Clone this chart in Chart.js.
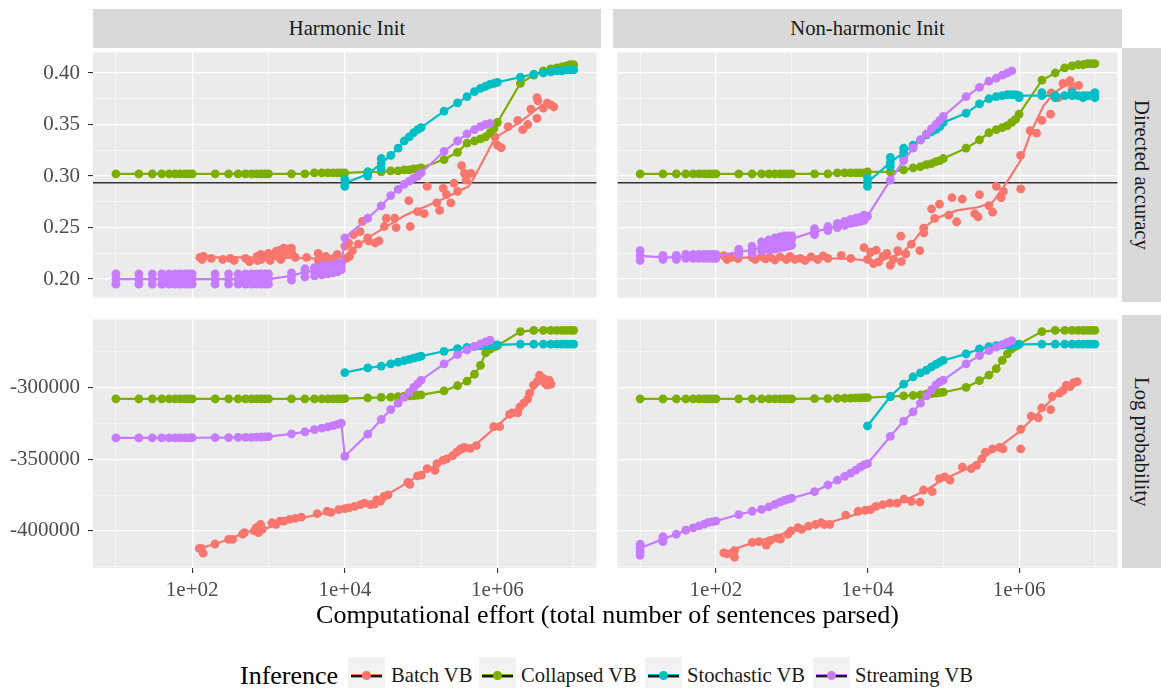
<!DOCTYPE html>
<html><head><meta charset="utf-8">
<script src="https://cdn.jsdelivr.net/npm/chart.js@4.4.1/dist/chart.umd.min.js"></script>
<style>
html,body{margin:0;padding:0;background:#fff;}
body{width:1161px;height:688px;position:relative;overflow:hidden;font-family:'Liberation Serif','Times New Roman',serif;}
canvas{position:absolute;}
.strip{position:absolute;background:#D9D9D9;color:#1A1A1A;font-size:20.7px;display:flex;align-items:center;justify-content:center;white-space:nowrap;}
.vtext{writing-mode:vertical-rl;}
.abs{position:absolute;white-space:nowrap;}
</style>
</head><body>
<script>
// ---------------- data ----------------
const X_GRID = [10,20,30,40,50,60,70,80,90,
  100,200,300,400,500,600,700,800,900,
  1000,2000,3000,4000,5000,6000,7000,8000,9000,
  10000,20000,30000,40000,50000,60000,70000,80000,90000,
  100000,200000,300000,400000,500000,600000,700000,800000,900000,
  1000000,2000000,3000000,4000000,5000000,6000000,7000000,8000000,9000000,
  10000000];
const X_LIMITS = [5.012, 19952623];
const X_MAJOR = [100, 10000, 1000000];
const X_MINOR = [10, 1000, 100000, 10000000];
const ACC_MAJOR = [0.20, 0.25, 0.30, 0.35, 0.40];
const ACC_MINOR = [0.225, 0.275, 0.325, 0.375];
const ACC_LIMITS = [0.182, 0.420];
const LP_MAJOR = [-400000, -350000, -300000];
const LP_MINOR = [-425000, -375000, -325000, -275000];
const LP_LIMITS = [-425800, -252700];
const REF_ACCURACY = 0.2935;
const SERIES_NAMES = ['Batch VB', 'Collapsed VB', 'Stochastic VB', 'Streaming VB'];
const INIT_NAMES = ['Harmonic Init', 'Non-harmonic Init'];
const METRIC_NAMES = ['Directed accuracy', 'Log probability'];

// ---- Harmonic Init, Directed accuracy ----
const H_ACC_COLLAPSED = [0.302,0.302,0.302,0.302,0.302,0.302,0.302,0.302,0.302,
  0.302,0.302,0.302,0.302,0.302,0.302,0.302,0.302,0.302,
  0.302,0.302,0.302,0.303,0.303,0.303,0.303,0.303,0.303,
  0.303,0.304,0.304,0.305,0.305,0.306,0.306,0.307,0.307,
  0.308,0.316,0.323,0.332,0.334,0.336,0.338,0.342,0.346,
  0.352,0.390,0.398,0.402,0.404,0.405,0.406,0.407,0.408,
  0.408];
const H_ACC_STOCHASTIC = [0.293,0.302,0.312,0.320,0.327,0.334,0.338,0.342,0.345,
  0.347,0.363,0.371,0.377,0.382,0.385,0.387,0.389,0.390,
  0.391,0.396,0.399,0.400,0.401,0.402,0.402,0.403,0.403,
  0.403];
const H_ACC_STOCH_EXTRA = [[10000,0.290],[10000,0.297],[20000,0.300],[20000,0.304],[30000,0.307],[30000,0.317]];
const H_ACC_STREAMING = [0.200,0.200,0.200,0.200,0.200,0.200,0.200,0.200,0.200,
  0.200,0.200,0.200,0.200,0.200,0.200,0.200,0.200,0.200,
  0.200,0.203,0.207,0.208,0.209,0.210,0.211,0.212,0.213,
  0.240,0.259,0.271,0.281,0.287,0.292,0.295,0.298,0.300,
  0.303,0.324,0.334,0.341,0.345,0.348,0.350,0.351];
const H_ACC_STREAM_LO = [0.195,0.195,0.195,0.195,0.195,0.195,0.195,0.195,0.195,
  0.195,0.195,0.195,0.195,0.195,0.195,0.195,0.195,0.195,
  0.195,0.199,0.202,0.203,0.204,0.205,0.206,0.207,0.209];
const H_ACC_STREAM_HI = [0.205,0.205,0.205,0.205,0.205,0.205,0.205,0.205,0.205,
  0.205,0.205,0.205,0.205,0.205,0.205,0.205,0.205,0.205,
  0.205,0.206,0.210,0.211,0.213,0.213,0.214,0.215,0.216];
const H_ACC_BATCH_LINE_X = [126,1000,6300,10000,20000,62000,190000,420000,500000,930000,2000000,3700000,5000000];
const H_ACC_BATCH_LINE_Y = [0.221,0.221,0.2197,0.2225,0.240,0.262,0.2775,0.290,0.299,0.337,0.3525,0.368,0.370];
const H_ACC_BATCH_PTS = [[126,0.221],[135,0.219],[140,0.222],[178,0.220],[251,0.219],[316,0.220],[355,0.218],[501,0.220],[562,0.217],[708,0.222],[720,0.218],[794,0.224],[800,0.219],[891,0.221],[1000,0.225],[1050,0.218],[1122,0.223],[1259,0.227],[1300,0.222],[1413,0.228],[1450,0.219],[1585,0.230],[1600,0.225],[1778,0.229],[1995,0.230],[2050,0.224],[2239,0.221],[3162,0.221],[4467,0.225],[4500,0.218],[5623,0.222],[5700,0.217],[7079,0.220],[7943,0.224],[9000,0.216],[10000,0.232],[10500,0.220],[11220,0.235],[11500,0.222],[12590,0.2275],[13000,0.243],[15000,0.234],[15850,0.246],[17000,0.256],[19950,0.240],[20500,0.237],[25000,0.235],[28000,0.237],[33000,0.251],[35000,0.259],[45000,0.259],[47000,0.250],[69000,0.276],[72000,0.251],[90000,0.2655],[110000,0.2635],[120000,0.290],[160000,0.274],[175000,0.2666],[195000,0.288],[215000,0.282],[245000,0.274],[270000,0.293],[300000,0.285],[340000,0.310],[370000,0.3025],[390000,0.296],[450000,0.3025],[930000,0.338],[1000000,0.330],[1120000,0.3275],[1380000,0.348],[1850000,0.354],[2150000,0.345],[2500000,0.350],[2750000,0.365],[3300000,0.356],[3300000,0.376],[3400000,0.373],[4000000,0.366],[4500000,0.371],[5000000,0.369],[5500000,0.367]];

// ---- Non-harmonic Init, Directed accuracy ----
const N_ACC_COLLAPSED = [0.302,0.302,0.302,0.302,0.302,0.302,0.302,0.302,0.302,
  0.302,0.302,0.302,0.302,0.302,0.302,0.302,0.302,0.302,
  0.302,0.302,0.302,0.303,0.303,0.303,0.303,0.303,0.303,
  0.304,0.304,0.306,0.308,0.309,0.311,0.312,0.314,0.315,
  0.317,0.327,0.335,0.342,0.345,0.347,0.349,0.352,0.355,
  0.360,0.393,0.400,0.405,0.407,0.408,0.408,0.409,0.409,
  0.409];
const N_ACC_STOCHASTIC = [0.294,0.313,0.323,0.330,0.335,0.340,0.343,0.345,0.348,
  0.352,0.361,0.370,0.375,0.377,0.378,0.379,0.379,0.379,
  0.378,0.378,0.378,0.378,0.378,0.378,0.378,0.378,0.378,
  0.378];
const N_ACC_STOCH_EXTRA = [[10000,0.290],[10000,0.298],[20000,0.309],[20000,0.318],[30000,0.318],[30000,0.327],[1000000,0.376],[2000000,0.381],[3000000,0.376],[5000000,0.381],[7000000,0.376],[10000000,0.381],[10000000,0.376]];
const N_ACC_STREAMING = [0.2225,0.221,0.221,0.222,0.222,0.222,0.222,0.222,0.222,
  0.222,0.2265,0.228,0.231,0.233,0.235,0.236,0.237,0.238,
  0.239,0.246,0.249,0.252,0.254,0.256,0.257,0.258,0.259,
  0.261,0.296,0.315,0.327,0.335,0.341,0.346,0.350,0.354,
  0.358,0.377,0.386,0.392,0.395,0.398,0.400,0.402];
const N_ACC_STREAM_LO = [0.218,0.219,0.219,0.220,0.220,0.220,0.220,0.220,0.220,
  0.220,0.224,0.225,0.227,0.228,0.229,0.230,0.231,0.232,
  0.233,0.243,0.247,0.250,0.252,0.254,0.255,0.256,0.257];
const N_ACC_STREAM_HI = [0.2275,0.223,0.223,0.224,0.224,0.224,0.224,0.224,0.224,
  0.224,0.229,0.232,0.236,0.238,0.240,0.241,0.242,0.242,
  0.242,0.249,0.251,0.254,0.256,0.258,0.259,0.260,0.262];
const N_ACC_BATCH_LINE_X = [127,6030,12900,27500,38000,55000,79400,151000,288000,447000,676000,1047000,1445000,2090000,2880000,3800000,5890000];
const N_ACC_BATCH_LINE_Y = [0.221,0.2197,0.2166,0.2244,0.2338,0.2494,0.2588,0.2666,0.2697,0.2744,0.2931,0.315,0.343,0.368,0.3806,0.3869,0.390];
const N_ACC_BATCH_PTS = [[127,0.2228],[140,0.219],[160,0.221],[195,0.2197],[300,0.221],[330,0.219],[400,0.222],[450,0.2195],[520,0.221],[600,0.2185],[700,0.2215],[850,0.219],[950,0.222],[1100,0.219],[1300,0.220],[1500,0.218],[1800,0.2215],[2200,0.219],[2600,0.2225],[3000,0.220],[4500,0.223],[6000,0.220],[9000,0.2306],[10000,0.219],[11000,0.226],[12000,0.215],[13000,0.228],[14000,0.2166],[16000,0.222],[18000,0.225],[20000,0.2134],[22000,0.219],[25000,0.2275],[27500,0.2416],[28000,0.217],[32000,0.2244],[38000,0.2338],[49000,0.2275],[55000,0.2494],[55500,0.2447],[70000,0.268],[77000,0.2588],[89000,0.2728],[118000,0.262],[130000,0.279],[150000,0.2556],[178000,0.2775],[260000,0.2634],[288000,0.2603],[300000,0.282],[400000,0.2713],[447000,0.265],[500000,0.290],[580000,0.279],[620000,0.285],[1047000,0.320],[1050000,0.2875],[1400000,0.344],[1700000,0.3416],[2000000,0.354],[2600000,0.360],[2650000,0.3806],[3300000,0.376],[3800000,0.390],[4700000,0.3925],[5000000,0.3838],[6100000,0.388]];

// ---- Harmonic Init, Log probability ----
const H_LP_COLLAPSED = [-308000,-308000,-308000,-308000,-308000,-308000,-308000,-308000,-308000,
  -308000,-308000,-308000,-308000,-308000,-308000,-308000,-308000,-308000,
  -308000,-308000,-308000,-308000,-308000,-308000,-308000,-308000,-308000,
  -307800,-307300,-307000,-306800,-306500,-306200,-306000,-305700,-305500,
  -305200,-302500,-298900,-295700,-290900,-284700,-276000,-273500,-272000,
  -271000,-261200,-260300,-260300,-260300,-260300,-260300,-260300,-260300,
  -260300];
const H_LP_STOCHASTIC = [-289700,-286500,-285200,-283600,-282400,-281400,-280500,-279600,-278900,
  -278300,-274900,-273100,-272200,-271600,-271200,-270900,-270700,-270600,
  -270500,-269900,-269900,-269900,-269900,-269900,-269900,-269900,-269900,
  -269900];
const H_LP_STREAMING = [-335200,-335200,-335200,-335200,-335200,-335200,-335200,-335200,-335200,
  -335100,-335000,-335000,-334900,-334900,-334800,-334700,-334600,-334500,
  -334300,-332400,-331000,-329500,-328400,-327500,-326600,-325800,-325000,
  -348000,-332600,-322400,-315500,-311000,-307000,-303500,-300000,-297500,
  -295000,-283600,-277200,-274000,-271500,-269800,-268300,-267100];
const H_LP_BATCH_LINE_X = [124,199,301,485,989,2270,4100,9420,21600,32700,66800,128000,232000,473000,966000,1550000,2490000,3560000,4800000];
const H_LP_BATCH_LINE_Y = [-412100,-409100,-405900,-401100,-397700,-392000,-389000,-385100,-381700,-376000,-366200,-356600,-349800,-341800,-327400,-317800,-307500,-295000,-297000];
const H_LP_BATCH_PTS = [[124,-412100],[132,-412100],[139,-415500],[199,-409100],[301,-405900],[339,-405900],[457,-402300],[485,-401100],[650,-400000],[690,-397700],[740,-401100],[785,-395400],[830,-398900],[1110,-394300],[1250,-395400],[1410,-393100],[1590,-393100],[1890,-392000],[2250,-391300],[2690,-390400],[4350,-387900],[5850,-386300],[6600,-387000],[8340,-385200],[10000,-384500],[11300,-384000],[13500,-382900],[16000,-381700],[18100,-380600],[21600,-381700],[24400,-381300],[26100,-378300],[29300,-379400],[32700,-376000],[36800,-374900],[66800,-366200],[71000,-367600],[89700,-361600],[101000,-361200],[120000,-356600],[152000,-357800],[161000,-353200],[193000,-350900],[217000,-349800],[259000,-347500],[291000,-345200],[328000,-342900],[368000,-341800],[441000,-342500],[528000,-340600],[893000,-327400],[1070000,-327400],[1440000,-318900],[1550000,-317800],[1850000,-317800],[1970000,-313700],[2210000,-311000],[2490000,-308200],[2640000,-304100],[2970000,-298400],[3330000,-296100],[3560000,-291600],[3990000,-293800],[4240000,-297300],[4500000,-298400],[4760000,-295000],[5030000,-297700]];

// ---- Non-harmonic Init, Log probability ----
const N_LP_COLLAPSED = [-308000,-308000,-308000,-308000,-308000,-308000,-308000,-308000,-308000,
  -308000,-308000,-308000,-308000,-308000,-308000,-308000,-308000,-308000,
  -308000,-307900,-307800,-307700,-307600,-307500,-307400,-307300,-307200,
  -307100,-306400,-306000,-305600,-305200,-304800,-304400,-304000,-303700,
  -303400,-300000,-295400,-291500,-287000,-281300,-276700,-273300,-271500,
  -269900,-261200,-260300,-260300,-260300,-260300,-260300,-260300,-260300,
  -260300];
const N_LP_STOCHASTIC = [-326900,-306400,-297700,-292700,-290000,-288100,-285800,-284000,-282400,
  -281300,-276700,-273300,-271700,-271000,-270600,-270400,-270300,-270200,
  -270100,-269900,-269900,-269900,-269900,-269900,-269900,-269900,-269900,
  -269900];
const N_LP_STREAMING = [-411900,-405700,-402300,-399500,-397800,-396400,-395200,-394100,-393500,
  -393100,-388600,-386300,-385000,-383200,-381500,-380000,-378700,-377800,
  -377200,-372600,-368000,-364600,-362000,-359800,-357600,-355500,-354000,
  -353200,-334200,-323500,-317100,-311000,-306000,-301800,-298300,-296200,
  -295000,-283600,-277900,-274400,-272000,-270200,-268700,-267500];
const N_LP_STREAM_EXTRA = [[10,-417000],[10,-414500],[10,-409200],[20,-407500],[20,-404000]];
const N_LP_BATCH_LINE_X = [127,300,1000,3000,10000,30000,60000,100000,200000,500000,1000000,2000000,3000000,5800000];
const N_LP_BATCH_LINE_Y = [-415000,-408500,-400000,-394500,-386000,-379000,-371500,-364000,-357000,-343000,-331000,-315500,-306000,-297000];
const N_LP_BATCH_PTS = [[127,-415300],[140,-416000],[176,-413700],[176,-418300],[301,-408000],[370,-407500],[462,-409800],[520,-406800],[637,-405000],[710,-405700],[890,-402300],[977,-400000],[1210,-397700],[1350,-398900],[1670,-396600],[2075,-395500],[2440,-394300],[2720,-395500],[3185,-395500],[5160,-389000],[7520,-386300],[9350,-385600],[11000,-385200],[12900,-382900],[15900,-381700],[19700,-380600],[24600,-380600],[30400,-377900],[37800,-379400],[49200,-379900],[54800,-371500],[71600,-372600],[88900,-363500],[104500,-362300],[122700,-364600],[178600,-355500],[233500,-356600],[275000,-354300],[322000,-349800],[359000,-345200],[446000,-342900],[553000,-341800],[614000,-342900],[1050000,-329200],[1050000,-342900],[1449000,-320100],[1795000,-321200],[1990000,-314400],[2612000,-315500],[2740000,-306400],[3420000,-304100],[3803000,-302300],[4200000,-298400],[4716000,-299500],[5260000,-296800],[5848000,-296100]];

// ---------------- drawing ----------------
const COLORS = ['#F8766D', '#7CAE00', '#00BFC4', '#C77CFF'];
const FONT = 'Liberation Serif';
const PT_R = 4.4;
const pts = (xs, ys) => xs.map((x, i) => ({x: x, y: ys[i]}));
const pairs = arr => arr.map(p => ({x: p[0], y: p[1]}));

function lineSet(data, color, radius, order) {
  return {data, borderColor: color, backgroundColor: color, borderWidth: 2.2, tension: 0,
    pointRadius: radius, pointBackgroundColor: color, pointBorderColor: color, pointBorderWidth: 0,
    pointHoverRadius: radius, order};
}
function pointSet(data, color, order) {
  return {data, showLine: false, borderColor: color, backgroundColor: color, borderWidth: 0,
    pointRadius: PT_R, pointBackgroundColor: color, pointBorderColor: color, pointBorderWidth: 0, order};
}

function buildSets(s) {
  const ds = [];
  if (s.ref !== undefined) {
    ds.push({data: [{x: X_LIMITS[0], y: s.ref}, {x: X_LIMITS[1], y: s.ref}], borderColor: '#333333',
      borderWidth: 1.3, pointRadius: 0, order: 10});
  }
  ds.push(lineSet(pts(s.batchLineX, s.batchLineY), COLORS[0], 0, 9));
  ds.push(pointSet(pairs(s.batchPts), COLORS[0], 8));
  ds.push(lineSet(pts(X_GRID, s.collapsed), COLORS[1], PT_R, 6));
  ds.push(lineSet(pts(X_GRID.slice(27), s.stochastic), COLORS[2], PT_R, 4));
  if (s.stochExtra) ds.push(pointSet(pairs(s.stochExtra), COLORS[2], 4));
  ds.push(lineSet(pts(X_GRID.slice(0, 44), s.streaming), COLORS[3], PT_R, 2));
  if (s.streamLo) {
    ds.push(pointSet(pts(X_GRID.slice(0, 27), s.streamLo), COLORS[3], 2));
    ds.push(pointSet(pts(X_GRID.slice(0, 27), s.streamHi), COLORS[3], 2));
  }
  if (s.streamExtra) ds.push(pointSet(pairs(s.streamExtra), COLORS[3], 2));
  return ds;
}

const panelBg = {id: 'panelBg', beforeDraw(chart) {
  const {ctx, chartArea: a} = chart;
  ctx.save(); ctx.fillStyle = '#EBEBEB';
  ctx.fillRect(a.left, a.top, a.right - a.left, a.bottom - a.top); ctx.restore();
}};

function fmtX(v) { return '1e+' + String(Math.round(Math.log10(v))).padStart(2, '0'); }

function makePanel(box, cfg, series) {
  const cv = document.createElement('canvas');
  cv.width = box.w; cv.height = box.h;
  cv.style.left = box.x + 'px'; cv.style.top = box.y + 'px';
  document.body.appendChild(cv);
  const xAll = [...X_MINOR, ...X_MAJOR].sort((a, b) => a - b);
  const yAll = [...cfg.yMajor, ...cfg.yMinor].sort((a, b) => a - b);
  const isXM = c => c.tick && X_MAJOR.includes(c.tick.value);
  const isYM = c => c.tick && cfg.yMajor.includes(c.tick.value);
  new Chart(cv.getContext('2d'), {
    type: 'line',
    data: {datasets: buildSets(series)},
    plugins: [panelBg],
    options: {
      responsive: false, animation: false, devicePixelRatio: 1, events: [],
      layout: {padding: 0},
      plugins: {legend: {display: false}, tooltip: {enabled: false}},
      scales: {
        x: {
          type: 'logarithmic', min: X_LIMITS[0], max: X_LIMITS[1],
          afterBuildTicks: s => { s.ticks = xAll.map(v => ({value: v})); },
          afterFit: s => { s.height = box.xh; s.paddingLeft = 0; s.paddingRight = 0; s.paddingTop = 0; s.paddingBottom = 0; },
          border: {display: false},
          grid: {color: '#FFFFFF', lineWidth: c => isXM(c) ? 1.15 : 0.55, drawTicks: box.showX,
            tickLength: 5, tickWidth: 1.1, tickColor: c => isXM(c) ? '#333333' : 'rgba(0,0,0,0)'},
          ticks: {display: box.showX, autoSkip: false, maxRotation: 0, minRotation: 0, padding: 5,
            color: '#4D4D4D', font: {family: FONT, size: 21},
            callback: v => X_MAJOR.includes(v) ? fmtX(v) : ''}
        },
        y: {
          type: 'linear', min: cfg.yLimits[0], max: cfg.yLimits[1],
          afterBuildTicks: s => { s.ticks = yAll.map(v => ({value: v})); },
          afterFit: s => { s.width = box.yw; s.paddingLeft = 0; s.paddingRight = 0; s.paddingTop = 0; s.paddingBottom = 0; },
          border: {display: false},
          grid: {color: '#FFFFFF', lineWidth: c => isYM(c) ? 1.15 : 0.55, drawTicks: box.showY,
            tickLength: 5, tickWidth: 1.1, tickColor: c => isYM(c) ? '#333333' : 'rgba(0,0,0,0)'},
          ticks: {display: box.showY, autoSkip: false, padding: 8,
            color: '#4D4D4D', font: {family: FONT, size: 21},
            callback: v => cfg.yMajor.includes(v) ? cfg.fmt(v) : ''}
        }
      }
    }
  });
}

const ACC_CFG = {yMajor: ACC_MAJOR, yMinor: ACC_MINOR, yLimits: ACC_LIMITS, fmt: v => v.toFixed(2)};
const LP_CFG = {yMajor: LP_MAJOR, yMinor: LP_MINOR, yLimits: LP_LIMITS, fmt: v => String(v)};

makePanel({x: 0, y: 48, w: 601, h: 254, yw: 93, xh: 0, showX: false, showY: true}, ACC_CFG,
  {ref: REF_ACCURACY, batchLineX: H_ACC_BATCH_LINE_X, batchLineY: H_ACC_BATCH_LINE_Y, batchPts: H_ACC_BATCH_PTS,
   collapsed: H_ACC_COLLAPSED, stochastic: H_ACC_STOCHASTIC, stochExtra: H_ACC_STOCH_EXTRA,
   streaming: H_ACC_STREAMING, streamLo: H_ACC_STREAM_LO, streamHi: H_ACC_STREAM_HI});
makePanel({x: 613, y: 48, w: 509, h: 254, yw: 0, xh: 0, showX: false, showY: false}, ACC_CFG,
  {ref: REF_ACCURACY, batchLineX: N_ACC_BATCH_LINE_X, batchLineY: N_ACC_BATCH_LINE_Y, batchPts: N_ACC_BATCH_PTS,
   collapsed: N_ACC_COLLAPSED, stochastic: N_ACC_STOCHASTIC, stochExtra: N_ACC_STOCH_EXTRA,
   streaming: N_ACC_STREAMING, streamLo: N_ACC_STREAM_LO, streamHi: N_ACC_STREAM_HI});
makePanel({x: 0, y: 315, w: 601, h: 286, yw: 93, xh: 33, showX: true, showY: true}, LP_CFG,
  {batchLineX: H_LP_BATCH_LINE_X, batchLineY: H_LP_BATCH_LINE_Y, batchPts: H_LP_BATCH_PTS,
   collapsed: H_LP_COLLAPSED, stochastic: H_LP_STOCHASTIC, streaming: H_LP_STREAMING});
makePanel({x: 613, y: 315, w: 509, h: 286, yw: 0, xh: 33, showX: true, showY: false}, LP_CFG,
  {batchLineX: N_LP_BATCH_LINE_X, batchLineY: N_LP_BATCH_LINE_Y, batchPts: N_LP_BATCH_PTS,
   collapsed: N_LP_COLLAPSED, stochastic: N_LP_STOCHASTIC, streaming: N_LP_STREAMING, streamExtra: N_LP_STREAM_EXTRA});

// strips
function addDiv(cls, style, html) {
  const d = document.createElement('div'); d.className = cls;
  Object.assign(d.style, style); d.innerHTML = html; document.body.appendChild(d); return d;
}
addDiv('strip', {left: '93px', top: '9px', width: '508px', height: '39px'}, INIT_NAMES[0]);
addDiv('strip', {left: '613px', top: '9px', width: '509px', height: '39px'}, INIT_NAMES[1]);
addDiv('strip', {left: '1122px', top: '48px', width: '39px', height: '254px'}, '<span class="vtext">' + METRIC_NAMES[0] + '</span>');
addDiv('strip', {left: '1122px', top: '315px', width: '39px', height: '253px'}, '<span class="vtext">' + METRIC_NAMES[1] + '</span>');

// axis title
addDiv('abs', {left: '93px', top: '598px', width: '1029px', height: '34px', lineHeight: '34px', textAlign: 'center', fontSize: '26px', color: '#000'},
  'Computational effort (total number of sentences parsed)');

// legend
addDiv('abs', {left: '240px', top: '657px', height: '37px', lineHeight: '37px', fontSize: '26px', color: '#000'}, 'Inference');
const LEG_BOX = [348, 479, 645, 813];
const LEG_TEXT = [391, 521, 687, 855];
SERIES_NAMES.forEach((name, i) => {
  addDiv('abs', {left: LEG_BOX[i] + 'px', top: '657px', width: '37px', height: '37px', background: '#F2F2F2'}, '');
  addDiv('abs', {left: (LEG_BOX[i] + 3) + 'px', top: '674px', width: '31px', height: '3.5px', background: COLORS[i]}, '');
  addDiv('abs', {left: (LEG_BOX[i] + 3) + 'px', top: '675px', width: '31px', height: '1.5px', background: '#1a1a1a'}, '');
  addDiv('abs', {left: (LEG_BOX[i] + 14) + 'px', top: '671px', width: '9px', height: '9px', borderRadius: '50%', background: COLORS[i]}, '');
  addDiv('abs', {left: LEG_TEXT[i] + 'px', top: '657px', height: '37px', lineHeight: '37px', fontSize: '20.6px', color: '#1A1A1A'}, name);
});
</script>
</body></html>
